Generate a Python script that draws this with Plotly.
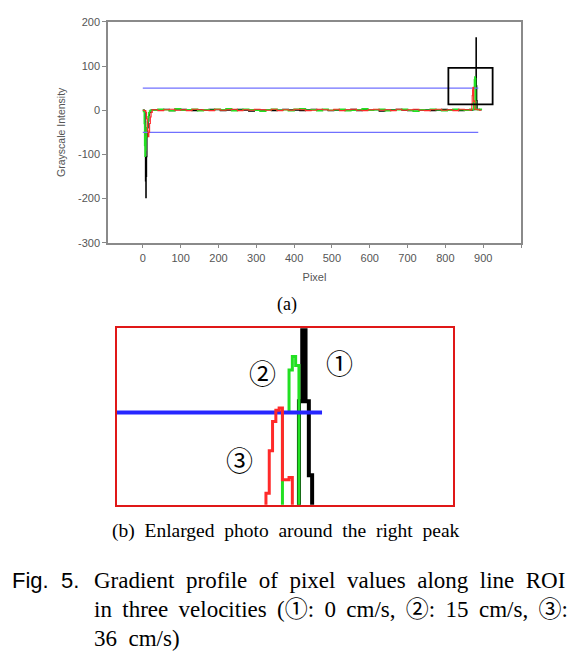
import plotly.graph_objects as go

# ---------------- data ----------------
# baseline sample pixels (shared grid)
base_px = [25, 40, 55, 70, 85, 100, 115, 130, 145, 160, 175, 190, 205, 220, 235,
           250, 265, 280, 295, 310, 325, 340, 355, 370, 385, 400, 415, 430, 445,
           460, 475, 490, 505, 520, 535, 550, 565, 580, 595, 610, 625, 640, 655,
           670, 685, 700, 715, 730, 745, 760, 775, 790, 805, 820, 835, 850, 865]

# 0 cm/s (black)
black_left_px = [0, 4, 6, 7, 8, 9, 10, 11, 12, 14, 16, 18, 20, 22]
black_left = [0, -2, -60, -160, -198, -150, -105, -60, -40, -25, -12, -5, -2, 0]
black_base = [1, 0, 2, -1, 1, 2, 0, -1, 1, 0,
              2, 1, -1, 0, 1, 2, 0, -2, 1, 0,
              1, -1, 0, 2, 1, 0, -1, 1, 2, 0,
              1, -1, 0, 1, 0, 2, -1, 1, 0, 1,
              -2, 0, 1, 2, 0, -1, 1, 0, 1, -1,
              0, 2, 1, 0, -1, 1, 0]
black_right_px = [872, 879, 880, 881, 882, 883, 884, 890, 895]
black_right = [1, 2, 55, 164, 55, 22, 2, 1, 0]

# 15 cm/s (green)
green_left_px = [0, 2, 4, 5, 6, 7, 8, 10, 12, 14, 16, 18, 20]
green_left = [0, -3, -30, -80, -104, -90, -60, -40, -25, -15, -6, -2, 0]
green_base = [0, 2, 1, -1, 3, 0, 1, 2, -1, 1,
              0, 2, 1, 3, -1, 0, 2, 1, 0, -2,
              1, 2, 0, 1, -1, 2, 3, 0, 1, -1,
              2, 0, 1, 2, -1, 0, 1, 3, 0, 1,
              2, -1, 0, 1, 2, 0, -2, 1, 0, 2,
              1, -1, 0, 2, 1, 0, 2]
green_right_px = [872, 874, 875, 876, 877, 878, 879, 880, 884, 890, 895]
green_right = [1, 2, 50, 50, 69, 75, 71, 2, 1, 2, 0]

# 36 cm/s (red)
red_left_px = [0, 4, 8, 10, 12, 14, 16, 18, 20, 22]
red_left = [0, -1, -5, -20, -45, -60, -50, -30, -15, -5]
red_base = [1, -1, 1, 2, 0, 1, -1, 2, 1, 0,
            -1, 2, 0, 1, 2, -1, 1, 0, 2, 1,
            0, 2, -1, 1, 0, 2, 1, -1, 0, 2,
            1, 0, 2, -1, 1, 2, 0, -1, 1, 2,
            0, 1, -1, 2, 0, 1, 2, 0, -1, 1,
            2, 0, 1, -1, 2, 1, 0]
red_right_px = [869, 870, 871, 872, 873, 874, 875, 876, 877, 878, 884, 890, 895]
red_right = [2, 14, 33, 46, 51, 52, 20, 20, 21, 2, 1, 0, 0]

# threshold lines
threshold_px = [0, 887]
upper_thr = [50, 50]
lower_thr = [-50, -50]

# zoom window drawn on panel (a)
box_px = [808, 925]
box_int = [13, 96]

x_ticks = [0, 100, 200, 300, 400, 500, 600, 700, 800, 900, 1000]
x_ticklabels = ["0", "100", "200", "300", "400", "500", "600", "700", "800", "900", ""]
y_ticks = [-300, -200, -100, 0, 100, 200]
y_ticklabels = ["-300", "-200", "-100", "0", "100", "200"]

# ---------------- assemble series ----------------
series = [
    ("0 cm/s", black_left_px + base_px + black_right_px,
     black_left + black_base + black_right, "#000000", 1.2, 4),
    ("15 cm/s", green_left_px + base_px + green_right_px,
     green_left + green_base + green_right, "#22e022", 1.6, 3),
    ("36 cm/s", red_left_px + base_px + red_right_px,
     red_left + red_base + red_right, "#ff2a2a", 1.1, 3),
]

# the page body keeps a default 8px margin, so the figure is 8px smaller each way
OFF = 8
W, H = 585 - OFF, 663 - OFF


def px(x):
    return (x - OFF) / W


def py(y):
    return 1 - (y - OFF) / H


fig = go.Figure()

# --- panel (a) ---
for name, xs, ys, col, w, _ in series[:2]:
    fig.add_trace(go.Scatter(x=xs, y=ys, mode="lines", line=dict(color=col, width=w, shape="hv"),
                             name=name, showlegend=False, xaxis="x", yaxis="y"))
for yy in (upper_thr, lower_thr):
    fig.add_trace(go.Scatter(x=threshold_px, y=yy, mode="lines", line=dict(color="#7070ff", width=1.2),
                             showlegend=False, xaxis="x", yaxis="y"))
name, xs, ys, col, w, _ = series[2]
fig.add_trace(go.Scatter(x=xs, y=ys, mode="lines", line=dict(color=col, width=w, shape="hv"),
                         name=name, showlegend=False, xaxis="x", yaxis="y"))

# --- panel (b): enlarged view of the same data ---
for name, xs, ys, col, _, w2 in series[:2]:
    fig.add_trace(go.Scatter(x=xs, y=ys, mode="lines", line=dict(color=col, width=w2, shape="hv"),
                             name=name, showlegend=False, xaxis="x2", yaxis="y2"))
fig.add_trace(go.Scatter(x=threshold_px, y=upper_thr, mode="lines", line=dict(color="#2626ff", width=4),
                         showlegend=False, xaxis="x2", yaxis="y2"))
name, xs, ys, col, _, w2 = series[2]
fig.add_trace(go.Scatter(x=xs, y=ys, mode="lines", line=dict(color=col, width=w2, shape="hv"),
                         name=name, showlegend=False, xaxis="x2", yaxis="y2"))

fig.add_shape(type="rect", xref="x", yref="y", x0=box_px[0], x1=box_px[1], y0=box_int[0], y1=box_int[1],
              line=dict(color="black", width=1.8))

axis_font = dict(family="Liberation Sans, Arial", size=11, color="#555555")

fig.update_layout(
    width=W, height=H, autosize=False,
    margin=dict(l=0, r=0, t=0, b=0),
    paper_bgcolor="white", plot_bgcolor="white",
    xaxis=dict(domain=[px(108), px(521)], range=[-92, 1000], anchor="y",
               tickvals=x_ticks, ticktext=x_ticklabels, ticks="outside", ticklen=4,
               tickcolor="#888888", tickfont=axis_font,
               showline=True, linecolor="#8a8a8a", linewidth=1.5, mirror=True,
               showgrid=False, zeroline=False,
               title=dict(text="Pixel", font=axis_font, standoff=11)),
    yaxis=dict(domain=[py(241), py(16)], range=[-300, 200], anchor="x",
               tickvals=y_ticks, ticktext=y_ticklabels, ticks="outside", ticklen=4,
               tickcolor="#888888", tickfont=axis_font,
               showline=True, linecolor="#8a8a8a", linewidth=1.5, mirror=True,
               showgrid=False, zeroline=False,
               title=dict(text="Grayscale Intensity",
                          font=dict(family="Liberation Sans, Arial", size=10.5, color="#555555"), standoff=10)),
    xaxis2=dict(domain=[px(117), px(453)], range=[824.85, 926.7], anchor="y2",
                showticklabels=False, ticks="", showgrid=False, zeroline=False,
                showline=True, linecolor="#e01818", linewidth=2, mirror=True),
    yaxis2=dict(domain=[py(508), py(328)], range=[8.8, 87.7], anchor="x2",
                showticklabels=False, ticks="", showgrid=False, zeroline=False,
                showline=True, linecolor="#e01818", linewidth=2, mirror=True),
)

serif = "Liberation Serif, Times New Roman, Noto Sans CJK KR"
circ = "Noto Sans CJK KR"
sp2 = "\u00a0\u00a0"
sp15 = "\u00a0\u2009"

annos = [
    dict(text="\u2460", x=px(339), y=py(363), font=dict(family=circ, size=27, color="black")),
    dict(text="\u2461", x=px(262), y=py(373), font=dict(family=circ, size=27, color="black")),
    dict(text="\u2462", x=px(239), y=py(462), font=dict(family=circ, size=27, color="black")),
    dict(text="(a)", x=px(287), y=py(304), font=dict(family=serif, size=18, color="black")),
    dict(text=sp2.join("(b) Enlarged photo around the right peak".split()), x=px(286), y=py(535),
         font=dict(family=serif, size=19.5, color="black")),
    dict(text="Fig.\u00a0\u00a05.", x=px(10), y=py(585), xanchor="left",
         font=dict(family="Liberation Sans, Arial", size=22, color="black")),
    dict(text=sp2.join("Gradient profile of pixel values along line ROI".split()), x=px(92), y=py(585),
         xanchor="left", font=dict(family=serif, size=23, color="black")),
    dict(text=sp15.join("in three velocities (\u2460: 0 cm/s, \u2461: 15 cm/s, \u2462:".split()), x=px(92), y=py(615),
         xanchor="left", font=dict(family=serif, size=23, color="black")),
    dict(text=sp2.join("36 cm/s)".split()), x=px(92), y=py(644),
         xanchor="left", font=dict(family=serif, size=23, color="black")),
]
for a in annos:
    a.setdefault("xanchor", "center")
    fig.add_annotation(xref="paper", yref="paper", yanchor="middle", showarrow=False, **a)

fig.write_html("out.html")
